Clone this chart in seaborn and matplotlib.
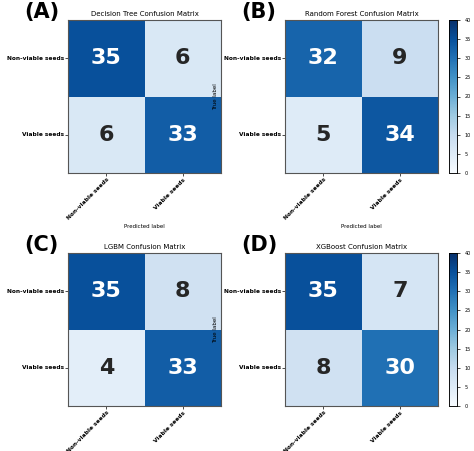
import matplotlib
matplotlib.use("Agg")
import matplotlib.pyplot as plt
import seaborn as sns
import numpy as np

classes = ["Non-viable seeds", "Viable seeds"]
titles = ["Decision Tree Confusion Matrix", "Random Forest Confusion Matrix",
          "LGBM Confusion Matrix", "XGBoost Confusion Matrix"]
panel_labels = ["(A)", "(B)", "(C)", "(D)"]
dt = [[35, 6], [6, 33]]
rf = [[32, 9], [5, 34]]
lgbm = [[35, 8], [4, 33]]
xgb = [[35, 7], [8, 30]]
mats = [dt, rf, lgbm, xgb]

W, H = 474, 451
fig = plt.figure(figsize=(W/100, H/100), dpi=100)
fig.patch.set_facecolor("white")

boxes = [(68, 20), (285, 20), (68, 253), (285, 253)]
size = 153
for i, (m, (x0, y0)) in enumerate(zip(mats, boxes)):
    ax = fig.add_axes([x0/W, 1-(y0+size)/H, size/W, size/H])
    has_cb = i in (1, 3)
    cax = None
    if has_cb:
        cax = fig.add_axes([449/W, 1-(y0+size)/H, 8/W, size/H])
    sns.heatmap(np.array(m), ax=ax, cmap="Blues", vmin=0, vmax=40, annot=True, fmt="d",
                annot_kws={"size": 16, "weight": "bold"},
                cbar=has_cb, cbar_ax=cax, xticklabels=classes, yticklabels=classes, square=False)
    ax.set_title(titles[i], fontsize=5, pad=3)
    ax.set_xlabel("Predicted label", fontsize=4, labelpad=2)
    ax.set_ylabel("True label", fontsize=4, labelpad=4)
    ax.set_xticklabels(classes, rotation=45, fontsize=4.2, fontweight="bold",
                       ha="right", rotation_mode="anchor")
    ax.set_yticklabels(classes, rotation=0, fontsize=4.2, fontweight="bold")
    ax.tick_params(length=2, width=0.5, pad=1)
    for s in ax.spines.values():
        s.set_visible(True); s.set_linewidth(0.8); s.set_color("#555555")
    if has_cb:
        cax.set_yticks(range(0, 41, 5))
        cax.tick_params(labelsize=3.5, length=2, width=0.5)
        for s in cax.spines.values():
            s.set_visible(True); s.set_linewidth(0.5)
    fig.text((x0-44)/W, 1-(y0-18)/H, panel_labels[i], fontsize=15, fontweight="bold",
             va="top", ha="left")

fig.savefig("out.png", dpi=100)
